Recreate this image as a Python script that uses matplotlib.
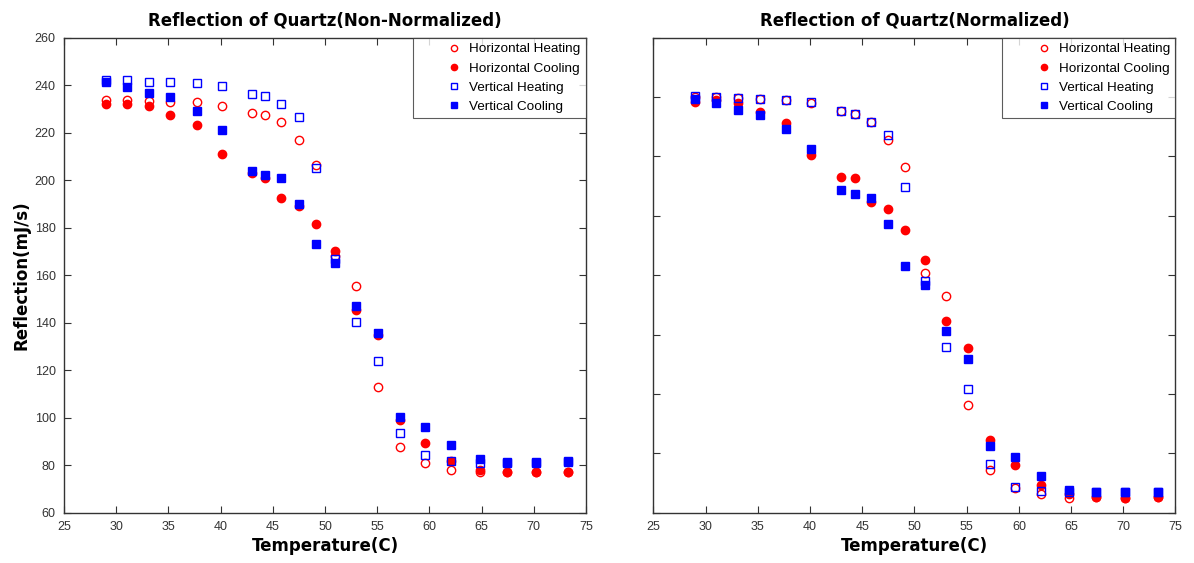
import matplotlib
matplotlib.use("Agg")
import matplotlib.pyplot as plt
from matplotlib.legend_handler import HandlerLine2D

# Temperatures (C) shared by all four runs
temps = [29.0, 31.0, 33.1, 35.2, 37.7, 40.1, 43.0, 44.3, 45.8, 47.5, 49.1,
         51.0, 53.0, 55.1, 57.2, 59.6, 62.1, 64.8, 67.4, 70.2, 73.3]

# Raw reflection (mJ/s)
raw_h_heat = [233.8, 233.7, 233.4, 233.0, 232.7, 231.0, 228.3, 227.4, 224.5, 217.1, 206.3,
              168.0, 155.6, 112.9, 87.8, 80.8, 78.2, 77.0, 77.0, 77.0, 77.0]
raw_h_cool = [231.9, 231.9, 231.3, 227.4, 223.4, 211.2, 202.8, 201.0, 192.6, 189.1, 181.6,
              170.1, 145.5, 135.0, 99.0, 89.6, 82.0, 78.2, 77.3, 77.0, 77.4]
raw_v_heat = [242.0, 242.0, 241.5, 241.1, 240.8, 239.7, 236.4, 235.2, 231.9, 226.7, 205.2,
              166.7, 140.5, 123.7, 93.8, 84.2, 82.0, 81.0, 81.0, 81.0, 81.5]
raw_v_cool = [241.3, 239.3, 236.6, 234.8, 228.9, 221.1, 203.9, 202.3, 201.1, 190.1, 173.3,
              165.2, 147.0, 135.6, 100.4, 96.0, 88.6, 82.5, 81.6, 81.6, 81.9]

# Normalized reflection
norm_h_heat = [1.000, 1.000, 0.999, 0.997, 0.995, 0.990, 0.976, 0.972, 0.958, 0.928, 0.882,
               0.704, 0.665, 0.481, 0.372, 0.342, 0.331, 0.325, 0.326, 0.325, 0.326]
norm_h_cool = [0.991, 0.995, 0.990, 0.975, 0.956, 0.902, 0.866, 0.863, 0.824, 0.811, 0.776,
               0.726, 0.623, 0.577, 0.422, 0.381, 0.347, 0.331, 0.326, 0.325, 0.327]
norm_v_heat = [1.002, 1.000, 0.999, 0.997, 0.995, 0.991, 0.976, 0.972, 0.958, 0.936, 0.848,
               0.691, 0.579, 0.508, 0.383, 0.344, 0.337, 0.335, 0.335, 0.335, 0.335]
norm_v_cool = [0.997, 0.990, 0.978, 0.970, 0.946, 0.913, 0.843, 0.837, 0.830, 0.786, 0.716,
               0.683, 0.606, 0.559, 0.413, 0.394, 0.362, 0.338, 0.335, 0.335, 0.335]

labels = ["Horizontal Heating", "Horizontal Cooling", "Vertical Heating", "Vertical Cooling"]

RED = "#ff0000"
BLUE = "#0000ff"
AXC = "#333333"
plt.rcParams["font.family"] = "Liberation Sans"
BOLD = dict(fontsize=12, fontweight="bold", family="DejaVu Sans")


def draw(ax, series, title):
    hh, hc, vh, vc = series
    ax.plot(temps, hh, "o", ms=6, mfc="none", mec=RED, mew=1.0, label=labels[0])
    ax.plot(temps, hc, "o", ms=6, mfc=RED, mec=RED, label=labels[1])
    ax.plot(temps, vh, "s", ms=6.3, mfc="none", mec=BLUE, mew=1.0, label=labels[2])
    ax.plot(temps, vc, "s", ms=6.3, mfc=BLUE, mec=BLUE, label=labels[3])
    ax.set_xlim(25, 75)
    ax.set_xticks(range(25, 76, 5))
    ax.tick_params(direction="in", length=5, top=True, right=True, pad=6,
                   labelsize=9, color=AXC, labelcolor=AXC)
    for s in ax.spines.values():
        s.set_color(AXC)
        s.set_linewidth(1.0)
    ax.set_title(title, pad=9, **BOLD)
    ax.set_xlabel("Temperature(C)", labelpad=3, **BOLD)
    leg = ax.legend(loc="upper right", fontsize=9.7, frameon=True, fancybox=False,
                    borderaxespad=0, borderpad=0.4, labelspacing=0.5,
                    handlelength=3.4, handletextpad=0.4, markerscale=0.75,
                    handler_map={matplotlib.lines.Line2D: HandlerLine2D(xpad=1.97)})
    leg.get_frame().set_edgecolor(AXC)
    leg.get_frame().set_linewidth(0.8)


fig = plt.figure(figsize=(11.94, 5.63), dpi=100)
ax1 = fig.add_axes([0.0536, 0.0890, 0.4372, 0.8443])
ax2 = fig.add_axes([0.5473, 0.0890, 0.4372, 0.8443])

draw(ax1, (raw_h_heat, raw_h_cool, raw_v_heat, raw_v_cool),
     "Reflection of Quartz(Non-Normalized)")
ax1.set_ylim(60, 260)
ax1.set_yticks(range(60, 261, 20))
ax1.set_ylabel("Reflection(mJ/s)", labelpad=3, **BOLD)

draw(ax2, (norm_h_heat, norm_h_cool, norm_v_heat, norm_v_cool),
     "Reflection of Quartz(Normalized)")
ax2.set_ylim(0.3, 1.1)
ax2.set_yticks([0.3, 0.4, 0.5, 0.6, 0.7, 0.8, 0.9, 1.0, 1.1])
ax2.set_yticklabels([])

fig.savefig("out.png", dpi=100, facecolor="white")
